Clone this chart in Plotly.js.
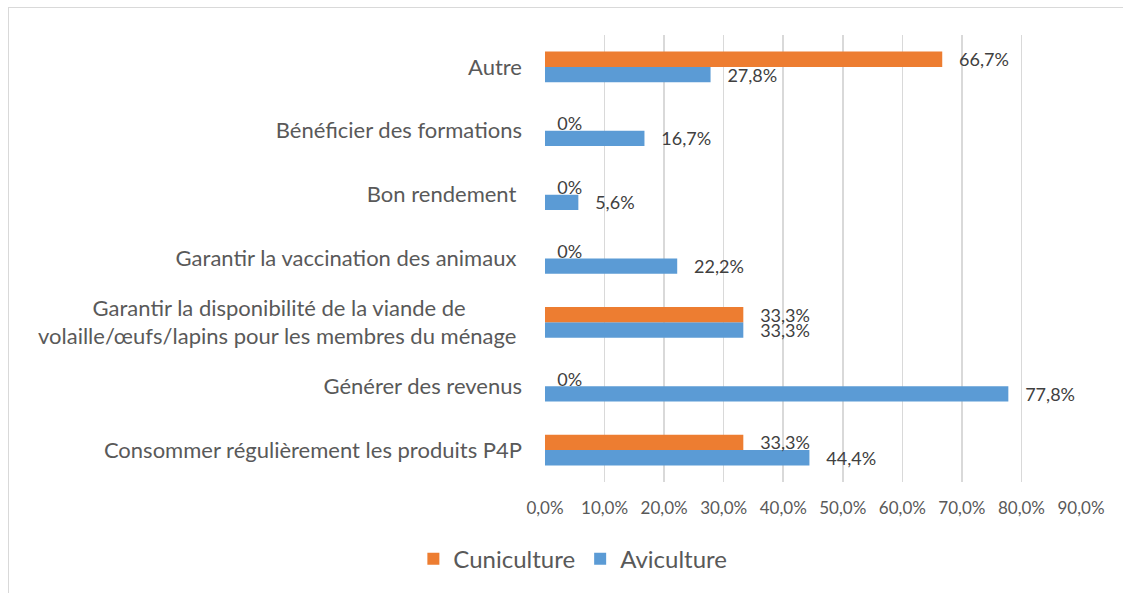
<!DOCTYPE html>
<html>
<head>
<meta charset="utf-8">
<script src="https://cdn.plot.ly/plotly-3.0.1.min.js"></script>
<style>
html,body{margin:0;padding:0;background:#fff;}
#frame{position:absolute;left:8px;top:7px;width:1115px;height:586px;border-left:1.5px solid #d9d9d9;border-top:1.5px solid #d9d9d9;box-sizing:border-box;}
#chart{position:absolute;left:0;top:0;width:1123px;height:593px;}
</style>
</head>
<body>
<div id="frame"></div>
<div id="chart"></div>
<script>
// Categories, bottom to top
var categories = [
  "Consommer régulièrement les produits P4P",
  "Générer des revenus",
  "Garantir la disponibilité de la viande de volaille/œufs/lapins pour les membres du ménage",
  "Garantir la vaccination des animaux",
  "Bon rendement",
  "Bénéficier des formations",
  "Autre"
];
var tickLabels = [
  "Consommer régulièrement les produits P4P",
  "Générer des revenus",
  "Garantir la disponibilité de la viande de\u00a0\u00a0\u00a0\u00a0\u00a0\u00a0\u00a0\u00a0\u00a0\u00a0<br>volaille/œufs/lapins pour les membres du ménage\u00a0",
  "Garantir la vaccination des animaux\u00a0",
  "Bon rendement\u00a0",
  "Bénéficier des formations",
  "Autre"
];
var cuniculture = [0.333, 0, 0.333, 0, 0, 0, 0.667];
var aviculture  = [0.444, 0.778, 0.333, 0.222, 0.056, 0.167, 0.278];

function fmt(v){
  if (v === 0) return "\u00a0\u00a00%";
  return "\u00a0\u00a0\u00a0" + (v*100).toFixed(1).replace(".", ",") + "%";
}

var labelFont = {family: "Lato, 'Open Sans', sans-serif", size: 18, color: "#404040"};

var traces = [
  {
    type: "bar", orientation: "h", name: "Aviculture",
    y: categories, x: aviculture,
    marker: {color: "#5B9BD5"},
    text: aviculture.map(fmt), textposition: "outside",
    textfont: labelFont, constraintext: "none", cliponaxis: false,
    hoverinfo: "x+y"
  },
  {
    type: "bar", orientation: "h", name: "Cuniculture",
    y: categories, x: cuniculture,
    marker: {color: "#ED7D31"},
    text: cuniculture.map(fmt), textposition: "outside",
    textfont: labelFont, constraintext: "none", cliponaxis: false,
    hoverinfo: "x+y"
  }
];

var layout = {
  width: 1123, height: 593,
  margin: {l: 545, r: 42, t: 35, b: 110},
  paper_bgcolor: "rgba(0,0,0,0)",
  plot_bgcolor: "rgba(0,0,0,0)",
  separators: ", ",
  barmode: "group",
  bargap: 0.52,
  bargroupgap: 0,
  font: {family: "Lato, 'Open Sans', sans-serif", color: "#595959"},
  xaxis: {
    range: [0, 0.9],
    dtick: 0.1,
    tickformat: ".1%",
    showgrid: true,
    gridcolor: "#d9d9d9",
    gridwidth: 1.5,
    zeroline: false,
    showline: false,
    ticks: "",
    tickfont: {size: 17, color: "#595959"},
    ticklabelstandoff: 14,
    fixedrange: true
  },
  yaxis: {
    type: "category",
    categoryorder: "array",
    categoryarray: categories,
    tickvals: categories,
    ticktext: tickLabels,
    showgrid: false,
    zeroline: false,
    showline: false,
    ticks: "",
    tickfont: {size: 22, color: "#595959"},
    ticklabelstandoff: 22,
    fixedrange: true
  },
  showlegend: true,
  legend: {
    orientation: "h",
    traceorder: "reversed",
    x: 0.052, xanchor: "center",
    y: -0.17, yanchor: "middle",
    font: {size: 24, color: "#595959"},
    itemwidth: 30
  }
};

Plotly.newPlot("chart", traces, layout, {displayModeBar: false, staticPlot: true});
</script>
</body>
</html>
